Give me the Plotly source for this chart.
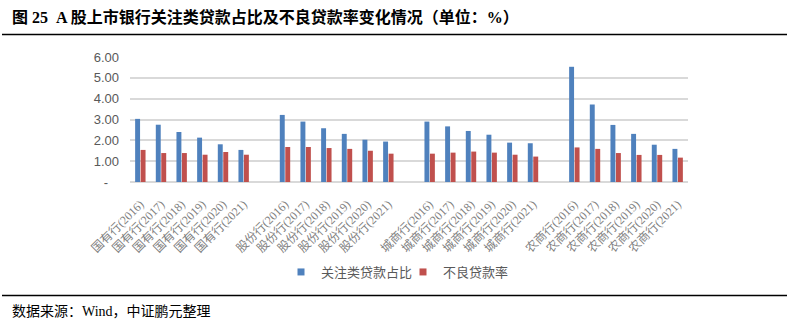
import plotly.graph_objects as go

# Bank groups and reporting years
groups = ["国有行", "股份行", "城商行", "农商行"]
years = ["2016", "2017", "2018", "2019", "2020", "2021"]

# 关注类贷款占比 (%) per group, 2016-2021
special_mention = {
    "国有行": [3.03, 2.75, 2.40, 2.13, 1.81, 1.54],
    "股份行": [3.22, 2.90, 2.58, 2.31, 2.03, 1.94],
    "城商行": [2.90, 2.67, 2.45, 2.27, 1.89, 1.86],
    "农商行": [5.53, 3.72, 2.74, 2.31, 1.79, 1.59],
}
# 不良贷款率 (%) per group, 2016-2021
npl_ratio = {
    "国有行": [1.54, 1.39, 1.39, 1.31, 1.44, 1.31],
    "股份行": [1.68, 1.68, 1.63, 1.59, 1.50, 1.36],
    "城商行": [1.36, 1.41, 1.46, 1.41, 1.31, 1.22],
    "农商行": [1.66, 1.59, 1.39, 1.30, 1.30, 1.17],
}

y_tick_vals = [0, 1, 2, 3, 4, 5, 6]
y_tick_text = ["-\u00a0\u00a0\u00a0", "1.00", "2.00", "3.00", "4.00", "5.00", "6.00"]

BLUE = "#4F81BD"
RED = "#C0504D"
GRID = "#D9D9D9"
GRAY_TEXT = "#595959"

# Each group occupies six slots followed by one empty slot
xs, labels, blue_vals, red_vals = [], [], [], []
for g_idx, g in enumerate(groups):
    for y_idx, yr in enumerate(years):
        xs.append(g_idx * 7 + y_idx)
        labels.append(f"{g}({yr})")
        blue_vals.append(special_mention[g][y_idx])
        red_vals.append(npl_ratio[g][y_idx])

W, H = 787, 326
L, R, T, B = 130, 99, 57, 144
pw, ph = W - L - R, H - T - B


def px_x(px):
    return (px - L) / pw


def px_y(py):
    return (H - B - py) / ph


fig = go.Figure()
fig.add_trace(go.Bar(x=xs, y=blue_vals, name="关注类贷款占比",
                     marker=dict(color=BLUE, line=dict(width=0)), showlegend=False))
fig.add_trace(go.Bar(x=xs, y=red_vals, name="不良贷款率",
                     marker=dict(color=RED, line=dict(width=0)), showlegend=False))
# Small square legend markers
fig.add_trace(go.Scatter(x=[None], y=[None], mode="markers", name="关注类贷款占比",
                         marker=dict(symbol="square", size=7, color=BLUE)))
fig.add_trace(go.Scatter(x=[None], y=[None], mode="markers", name="不良贷款率",
                         marker=dict(symbol="square", size=7, color=RED)))

cjk_serif = "Liberation Serif, Noto Sans CJK SC, sans-serif"
cjk_sans = "Liberation Sans, Noto Sans CJK SC, sans-serif"

fig.update_layout(
    width=W, height=H,
    margin=dict(l=L, r=R, t=T, b=B, pad=0),
    paper_bgcolor="white", plot_bgcolor="white",
    barmode="group", bargap=0.47, bargroupgap=0.1,
    xaxis=dict(
        range=[-0.5, 26.5], tickmode="array", tickvals=xs, ticktext=labels,
        tickangle=-45, showgrid=False, zeroline=False, showline=False,
        ticks="", ticklabelstandoff=12,
        tickfont=dict(family=cjk_serif, size=12, color="#7F7F7F"),
        fixedrange=True,
    ),
    yaxis=dict(
        range=[0, 6], tickmode="array", tickvals=y_tick_vals, ticktext=y_tick_text,
        showgrid=True, gridcolor=GRID, gridwidth=1.5, zeroline=True,
        zerolinecolor=GRID, zerolinewidth=1.5, showline=False, ticks="",
        ticklabelstandoff=10,
        tickfont=dict(family="Liberation Sans Narrow, Liberation Sans, sans-serif",
                      size=13, color=GRAY_TEXT),
        fixedrange=True,
    ),
    legend=dict(
        orientation="h", x=px_x(403), xanchor="center", y=px_y(272), yanchor="middle",
        font=dict(family=cjk_sans, size=13, color=GRAY_TEXT),
        itemwidth=30, tracegroupgap=0, bgcolor="rgba(0,0,0,0)",
        entrywidth=77, entrywidthmode="pixels",
    ),
    shapes=[
        dict(type="line", xref="paper", yref="paper", x0=px_x(2), x1=px_x(787),
             y0=px_y(34.5), y1=px_y(34.5), line=dict(color="black", width=1.5)),
        dict(type="line", xref="paper", yref="paper", x0=px_x(2), x1=px_x(787),
             y0=px_y(295.5), y1=px_y(295.5), line=dict(color="black", width=1.5)),
    ],
    annotations=[
        dict(text="<b>图 25  A 股上市银行关注类贷款占比及不良贷款率变化情况（单位：%）</b>",
             xref="paper", yref="paper", x=px_x(10), y=px_y(17),
             xanchor="left", yanchor="middle", showarrow=False,
             font=dict(family=cjk_serif, size=16, color="black")),
        dict(text="数据来源：Wind，中证鹏元整理",
             xref="paper", yref="paper", x=px_x(10), y=px_y(311),
             xanchor="left", yanchor="middle", showarrow=False,
             font=dict(family=cjk_serif, size=14, color="black")),
    ],
)

fig.write_html("out.html")
